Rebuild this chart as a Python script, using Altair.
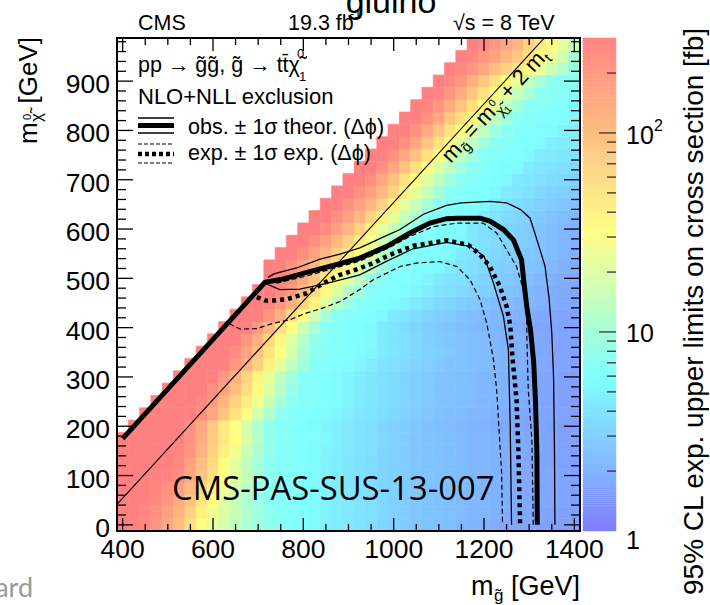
import altair as alt
import pandas as pd

FONT = "Liberation Sans"
L, T, W, H = 117, 38, 463, 493

X_DOM = [387.5, 1412.5]
Y_DOM = [-12.5, 987.5]
xs = alt.Scale(domain=X_DOM, nice=False, zero=False)
ys = alt.Scale(domain=Y_DOM, nice=False, zero=False)

# ---------------- heat map: expected limit [fb] per (m_gluino, m_LSP) cell ----------------
lsp_rows = [0, 25, 50, 75, 100, 125, 150, 175, 200, 225, 250, 275, 300, 325, 350, 375, 400,
            425, 450, 475, 500, 525, 550, 575, 600, 625, 650, 675, 700, 725, 750, 775, 800,
            825, 850, 875, 900, 925, 950, 975]
first_gluino = [400, 400, 400, 400, 400, 400, 400, 400, 425, 450, 475, 500, 525, 550, 575, 600,
                625, 650, 675, 700, 725, 725, 750, 775, 800, 825, 850, 875, 900, 925, 950, 975,
                1000, 1025, 1050, 1075, 1100, 1125, 1150, 1175]
xsec_rows = [
    [300,290,260,210,150,100,55,32,22,18,14,11,9,7.2,6.5,6.2,5.9,5.6,5.0,4.6,4.3,4.0,3.7,3.4,3.1,2.9,2.7,2.6,2.5,2.4,2.2,2.1,2.0,1.9,1.8,1.75,1.7,1.65,1.6,1.55,1.5],
    [300,300,270,230,170,120,70,40,26,19,15,11.5,9,7.2,6.5,6.2,5.9,5.6,5.0,4.6,4.3,4.0,3.7,3.4,3.1,2.9,2.7,2.6,2.5,2.4,2.3,2.2,2.1,2.0,1.9,1.8,1.75,1.7,1.65,1.6,1.55],
    [300,300,290,250,200,140,90,50,32,21,15,11,8.5,7.0,6.5,6.2,5.9,5.6,5.0,4.6,4.3,4.0,3.7,3.4,3.1,2.9,2.7,2.6,2.5,2.4,2.3,2.2,2.1,2.0,1.9,1.85,1.8,1.75,1.7,1.65,1.6],
    [300,300,300,270,220,170,110,65,40,26,18,12.5,9,7.2,6.5,6.2,5.9,5.6,5.0,4.6,4.3,4.0,3.7,3.4,3.1,2.9,2.7,2.6,2.5,2.4,2.3,2.2,2.1,2.0,1.9,1.85,1.8,1.75,1.7,1.65,1.6],
    [300,300,300,300,280,240,150,90,54,32,22,15,10,7.2,6.5,6.2,5.9,5.6,5.0,4.6,4.2,3.9,3.6,3.3,3.1,2.9,2.7,2.6,2.5,2.4,2.3,2.2,2.1,2.0,1.9,1.85,1.8,1.75,1.7,1.65,1.6],
    [300,300,300,300,300,260,170,100,58,32,21,14,9.5,7.0,6.5,6.2,5.9,5.6,5.0,4.6,4.2,3.9,3.6,3.3,3.1,2.9,2.7,2.6,2.5,2.4,2.3,2.2,2.1,2.0,1.9,1.8,1.75,1.7,1.65,1.6,1.55],
    [300,300,300,300,300,280,200,120,70,42,26,16,10.5,7.5,6.5,6.2,5.9,5.6,5.2,4.7,4.3,4.0,3.7,3.4,3.1,2.9,2.7,2.6,2.5,2.4,2.3,2.2,2.1,2.0,1.9,1.8,1.75,1.7,1.65,1.6,1.55],
    [300,300,300,300,300,300,220,140,80,46,32,19,12,7.5,6.6,6.3,6.0,5.7,5.4,4.8,4.4,4.0,3.7,3.4,3.1,2.9,2.7,2.6,2.5,2.4,2.3,2.2,2.1,2.0,1.9,1.8,1.75,1.7,1.65,1.6,1.55],
    [300,300,300,300,300,225,150,85,46,32,18,11,7.2,6.5,6.2,5.9,5.6,5.3,4.7,4.3,4.0,3.7,3.4,3.1,2.9,2.7,2.5,2.4,2.3,2.2,2.1,2.0,1.9,1.8,1.75,1.7,1.65,1.6,1.55,1.5],
    [300,300,300,300,300,225,150,90,50,32,18,11,7.2,6.5,6.2,5.9,5.6,5.3,4.7,4.3,4.0,3.7,3.4,3.1,2.9,2.7,2.5,2.4,2.3,2.2,2.1,2.0,1.9,1.8,1.75,1.7,1.65,1.6,1.55],
    [300,300,300,300,260,190,120,70,42,26,15,9.5,7.0,6.5,6.2,5.9,5.6,5.3,4.6,4.2,3.9,3.6,3.3,3.0,2.8,2.6,2.5,2.4,2.3,2.2,2.1,2.0,1.9,1.8,1.7,1.65,1.6,1.55],
    [300,300,300,300,230,160,100,58,34,20,12,8,6.5,6.2,5.9,5.6,5.3,4.6,4.2,3.9,3.6,3.3,3.0,2.8,2.6,2.5,2.4,2.3,2.2,2.1,2.0,1.9,1.8,1.7,1.65,1.6,1.55],
    [300,300,300,300,195,125,70,40,23,13.5,9,6.5,6.2,5.9,5.6,5.3,4.5,4.1,3.8,3.5,3.2,3.0,2.8,2.6,2.5,2.4,2.3,2.2,2.1,2.0,1.9,1.8,1.7,1.65,1.6,1.55],
    [300,300,300,300,200,130,72,40,23,13.5,9,6.5,6.2,5.9,5.6,5.3,4.5,4.1,3.8,3.5,3.2,3.0,2.8,2.6,2.5,2.4,2.3,2.2,2.1,2.0,1.9,1.8,1.7,1.65,1.6],
    [300,300,300,240,160,95,50,32,18,10.5,7.2,6.5,6.2,5.9,5.6,5.3,4.5,4.1,3.8,3.5,3.2,3.0,2.8,2.6,2.4,2.3,2.2,2.1,2.0,1.9,1.8,1.7,1.65,1.6],
    [300,300,300,210,130,65,36,20,12,7.8,6.6,6.3,6.0,5.7,5.4,4.4,4.0,3.7,3.4,3.1,2.9,2.7,2.5,2.4,2.3,2.2,2.1,2.0,1.9,1.8,1.7,1.65,1.6],
    [300,300,300,195,115,54,32,16.6,10,6.8,6.4,6.0,5.7,5.4,4.4,4.0,3.6,3.3,3.0,2.8,2.6,2.4,2.3,2.2,2.1,2.0,1.9,1.8,1.7,1.65,1.6,1.55],
    [300,300,300,200,125,60,32,17,10,6.8,6.4,6.0,5.7,5.4,4.4,4.0,3.6,3.3,3.0,2.8,2.6,2.4,2.3,2.2,2.1,2.0,1.9,1.8,1.7,1.65,1.6],
    [300,300,280,205,130,70,40,22,13,8.5,6.6,6.2,5.9,5.6,5.3,4.4,4.0,3.6,3.3,3.0,2.8,2.6,2.4,2.3,2.2,2.1,2.0,1.9,1.8,1.7],
    [300,300,250,180,110,60,36,21,13,8.8,6.5,6.2,5.9,5.6,5.3,4.5,4.1,3.8,3.5,3.2,3.0,2.8,2.6,2.4,2.2,2.0,1.9,1.8,1.75],
    [300,300,225,150,85,46,32,20,13.5,9,6.5,6.2,5.9,5.6,5.3,4.5,4.1,3.8,3.5,3.2,3.0,2.8,2.6,2.4,2.2,2.0,1.9,1.8],
    [300,290,220,160,110,70,46,32,20,13.5,9,6.6,6.3,6.0,5.7,5.4,4.5,4.1,3.8,3.5,3.2,3.0,2.8,2.6,2.4,2.2,2.0,1.9],
    [300,300,225,165,115,72,44,32,20,13.5,9,6.6,6.3,6.0,5.7,5.4,4.4,4.0,3.7,3.4,3.1,2.9,2.7,2.5,2.3,2.1,1.95],
    [300,300,225,168,115,71,42,27,17,11,7.5,6.5,6.2,5.9,5.6,5.3,4.3,3.9,3.6,3.3,3.0,2.8,2.6,2.4,2.2,2.0],
    [300,300,225,170,115,71,40,22.6,15,10,6.8,6.4,6.0,5.7,5.4,4.3,3.9,3.6,3.2,3.0,2.8,2.6,2.4,2.2,2.0],
    [300,300,225,170,115,71,40,22.6,15,10,6.8,6.4,6.0,5.7,5.4,4.4,4.0,3.6,3.3,3.0,2.8,2.6,2.4,2.2],
    [300,300,225,170,115,71,40,22.6,15,10,6.8,6.4,6.0,5.7,5.4,4.5,4.1,3.7,3.4,3.1,2.9,2.7,2.5],
    [300,300,225,170,115,71,40,22.6,15,10,6.8,6.4,6.0,5.7,5.4,4.6,4.2,3.8,3.5,3.2,3.0,2.8],
    [300,300,225,150,95,54,32,20,13.5,9,6.8,6.4,6.0,5.7,5.4,4.3,4.1,3.9,3.6,3.4,3.2],
    [300,300,225,150,95,54,32,20,13.5,9,6.8,6.4,6.0,5.7,5.4,4.4,4.2,4.0,3.8,3.6],
    [300,300,225,150,92,54,32,20,13.5,9,6.8,6.4,6.0,5.7,5.5,4.6,4.4,4.2,4.0],
    [300,300,225,150,90,54,32,20,13.5,9,6.8,6.4,6.0,5.8,5.6,4.8,4.6,4.4],
    [300,300,225,150,90,54,32,20,13.5,9,6.8,6.4,6.0,5.8,5.6,5.0,4.7],
    [300,290,220,150,90,54,32,21,14,9.5,6.9,6.5,6.2,6.0,5.8,5.4],
    [300,280,210,140,88,54,32,21.5,14.5,9.8,7.0,6.7,6.4,6.2,6.0],
    [300,270,200,132,86,54,32,22,15,10,7.1,6.8,6.5,6.3],
    [300,260,195,127,85,54,32,22.6,15,10,7.2,6.8,6.5],
    [300,260,198,145,100,70,46,32,24,16,11,8],
    [300,260,200,165,115,85,54,32,25,17,10],
    [300,260,195,150,115,71,46,32,22.6,15],
]

# ---------------- exclusion contours ----------------
obs_x = [400, 715, 740, 756, 808, 866, 925, 985, 1036, 1080, 1117, 1140, 1191, 1213, 1243, 1265, 1283, 1288, 1295, 1303, 1310, 1314, 1317, 1318]
obs_y = [175, 492, 496, 499, 512, 526, 541, 565, 592, 612, 621, 622, 622, 616, 599, 578, 538, 495, 440, 395, 330, 250, 150, 0]
obs_up_x = [722, 735, 785, 837, 881, 925, 985, 1014, 1066, 1117, 1150, 1213, 1250, 1280, 1302, 1320, 1335, 1344, 1350, 1354, 1356, 1357]
obs_up_y = [502, 509, 521, 539, 549, 562, 587, 599, 630, 648, 653, 656, 653, 640, 622, 570, 525, 460, 390, 300, 150, 0]
obs_dn_x = [715, 748, 792, 852, 925, 985, 1043, 1117, 1169, 1200, 1221, 1243, 1254, 1258, 1261]
obs_dn_y = [490, 477, 478, 490, 507, 535, 560, 573, 565, 545, 490, 423, 355, 200, 0]
exp_x = [697, 715, 734, 765, 808, 844, 881, 918, 955, 992, 1044, 1117, 1165, 1191, 1213, 1235, 1250, 1258, 1263, 1272, 1276, 1280]
exp_y = [462, 455, 455, 458, 470, 490, 507, 518, 531, 548, 566, 577, 568, 548, 524, 484, 443, 405, 340, 254, 152, 0]
exp_up_x = [740, 808, 866, 925, 985, 1036, 1088, 1140, 1198, 1228, 1250, 1272, 1287, 1294, 1295, 1298, 1306, 1309]
exp_up_y = [490, 505, 520, 535, 560, 585, 605, 612, 612, 592, 558, 524, 477, 430, 375, 274, 172, 0]
exp_dn_x = [636, 660, 697, 734, 770, 808, 844, 881, 918, 955, 1014, 1051, 1103, 1140, 1169, 1191, 1206, 1213, 1221, 1228, 1239, 1241]
exp_dn_y = [408, 397, 398, 409, 416, 430, 440, 453, 473, 497, 524, 531, 534, 524, 497, 457, 409, 375, 335, 274, 105, 0]

# kinematic line m_gluino = m_LSP + 2 m_top
diag_x = [387.5, 1333.5]
diag_y = [41.5, 987.5]

x_major = [400, 600, 800, 1000, 1200, 1400]
x_minor = [450, 500, 550, 650, 700, 750, 850, 900, 950, 1050, 1100, 1150, 1250, 1300, 1350]
y_major = [0, 100, 200, 300, 400, 500, 600, 700, 800, 900]
y_minor = [20, 40, 60, 80, 120, 140, 160, 180, 220, 240, 260, 280, 320, 340, 360, 380, 420, 440,
           460, 480, 520, 540, 560, 580, 620, 640, 660, 680, 720, 740, 760, 780, 820, 840, 860,
           880, 920, 940, 960, 980]
cb_major = [10, 100]
cb_minor = [2, 3, 4, 5, 6, 7, 8, 9, 20, 30, 40, 50, 60, 70, 80, 90, 200]

# ---------------- build ----------------
recs = []
for lsp, g0, vals in zip(lsp_rows, first_gluino, xsec_rows):
    for j, v in enumerate(vals):
        g = g0 + 25 * j
        recs.append({"x0": g - 12.5, "x1": g + 12.5, "y0": lsp - 12.5, "y1": lsp + 12.5, "v": v})
heat_df = pd.DataFrame(recs)

cscale = alt.Scale(type="log", domain=[1, 5.9, 31.6, 300],
                   range=["#8080ff", "#80ffff", "#ffff80", "#ff8080"], interpolate="rgb")

heat = alt.Chart(heat_df).mark_rect(strokeWidth=0.6).encode(
    x=alt.X("x0:Q", scale=xs, axis=None),
    x2="x1",
    y=alt.Y("y0:Q", scale=ys, axis=None),
    y2="y1",
    color=alt.Color("v:Q", scale=cscale, legend=None),
    stroke=alt.Stroke("v:Q", scale=cscale, legend=None),
)


def curve(xv, yv, width, dash=None):
    df = pd.DataFrame({"x": xv, "y": yv, "i": list(range(len(xv)))})
    kw = dict(color="black", strokeWidth=width, clip=True)
    if dash:
        kw["strokeDash"] = dash
    return alt.Chart(df).mark_line(**kw).encode(
        x=alt.X("x:Q", scale=xs, axis=None), y=alt.Y("y:Q", scale=ys, axis=None),
        order="i:Q")


def yticks(values, x0, x1):
    return alt.Chart(pd.DataFrame({"v": values})).mark_rule(color="black", strokeWidth=1.3).encode(
        y=alt.Y("v:Q", scale=ys, axis=None), x=alt.value(x0), x2=alt.value(x1))


def xticks(values, y0, y1):
    return alt.Chart(pd.DataFrame({"v": values})).mark_rule(color="black", strokeWidth=1.3).encode(
        x=alt.X("v:Q", scale=xs, axis=None), y=alt.value(y0), y2=alt.value(y1))


xlabels = alt.Chart(pd.DataFrame({"v": x_major})).mark_text(
    font=FONT, fontSize=26.5, align="center", baseline="alphabetic", color="black").encode(
    x=alt.X("v:Q", scale=xs, axis=None), y=alt.value(558 - T), text=alt.Text("v:Q", format="d"))

ylabels = alt.Chart(pd.DataFrame({"v": y_major})).mark_text(
    font=FONT, fontSize=26.5, align="right", baseline="alphabetic", dy=12, color="black").encode(
    y=alt.Y("v:Q", scale=ys, axis=None), x=alt.value(110 - L), text=alt.Text("v:Q", format="d"))

ONE = pd.DataFrame({"a": [0]})


def label(text, x, y, size, angle=0, dx=0, dy=0, align="left", baseline="alphabetic",
          color="black", font=FONT):
    return alt.Chart(ONE).mark_text(text=text, fontSize=size, font=font, angle=angle, dx=dx, dy=dy,
                                    align=align, baseline=baseline, color=color).encode(
        x=alt.value(x - L), y=alt.value(y - T))


def seg(x0, x1, y, width, dash=None):
    kw = dict(color="black", strokeWidth=width)
    if dash:
        kw["strokeDash"] = dash
    return alt.Chart(ONE).mark_rule(**kw).encode(
        x=alt.value(x0 - L), x2=alt.value(x1 - L), y=alt.value(y - T))


DIAG_ANCHOR = pd.DataFrame({"x": [1100], "y": [754]})


def dlabel(text, size, dx, dy):
    return alt.Chart(DIAG_ANCHOR).mark_text(text=text, fontSize=size, font=FONT, angle=312.5,
                                            dx=dx, dy=dy, align="left", baseline="alphabetic",
                                            color="black").encode(
        x=alt.X("x:Q", scale=xs, axis=None), y=alt.Y("y:Q", scale=ys, axis=None))


frame = alt.Chart(ONE).mark_rect(fillOpacity=0, stroke="black", strokeWidth=2).encode(
    x=alt.value(0), x2=alt.value(W), y=alt.value(0), y2=alt.value(H))

layers = [
    heat,
    curve(diag_x, diag_y, 1.1),
    curve(exp_dn_x, exp_dn_y, 1.2, [5, 3]),
    curve(exp_up_x, exp_up_y, 1.2, [5, 3]),
    curve(obs_dn_x, obs_dn_y, 1.3),
    curve(obs_up_x, obs_up_y, 1.3),
    curve(exp_x, exp_y, 4.5, [4, 4]),
    curve(obs_x, obs_y, 5),
    yticks(y_major, 0, 16), yticks(y_minor, 0, 9),
    yticks(y_major, W - 16, W), yticks(y_minor, W - 9, W),
    xticks(x_major, H - 13, H), xticks(x_minor, H - 7, H),
    xticks(x_major, 0, 13), xticks(x_minor, 0, 7),
    frame,
    xlabels, ylabels,
    # header
    label("CMS", 138, 30, 21.5),
    label("19.3 fb", 288, 30, 21.5),
    label("-1", 350, 18, 13),
    label("\u221as = 8 TeV", 453, 30, 21.5),
    label("gluino", 391, 13, 34, align="center"),
    # legend
    label("pp \u2192 g\u0303g\u0303, g\u0303 \u2192 tt\u0304\u03c7\u0303", 138, 72, 21.5),
    label("0", 297, 58, 13),
    label("1", 299, 81, 13),
    label("NLO+NLL exclusion", 138, 104, 22),
    seg(138, 174, 118, 1.5), seg(138, 174, 125.5, 5), seg(138, 174, 133, 1.5),
    label("obs. \u00b1 1\u03c3 theor. (\u0394\u03d5)", 188, 134, 21.5),
    seg(138, 174, 144, 1.2, [4, 2]), seg(138, 174, 154, 4.5, [4, 3]), seg(138, 174, 163, 1.2, [4, 2]),
    label("exp. \u00b1 1\u03c3 exp. (\u0394\u03d5)", 188, 160, 21.5),
    # diagonal label
    dlabel("m", 22, 0, 16),
    dlabel("g\u0303", 14.5, 19, 21),
    dlabel("=", 22, 32, 16),
    dlabel("m", 22, 50, 16),
    dlabel("\u03c7\u0303", 14.5, 69, 22),
    dlabel("0", 10.5, 70, 9),
    dlabel("1", 10.5, 76, 25),
    dlabel("+", 22, 86, 16),
    dlabel("2", 22, 105, 16),
    dlabel("m", 22, 123, 16),
    dlabel("t", 14.5, 142, 21),
    # axis titles
    label("m", 471, 595, 27),
    label("g\u0303", 494, 601, 17),
    label("[GeV]", 580, 595, 27, align="right"),
    label("m", 37, 144, 26, angle=270),
    label("\u03c7\u0303", 42, 122, 17, angle=270),
    label("0", 31, 120, 11, angle=270),
    label("[GeV]", 37, 37, 26, angle=270, align="right"),
    # overlays
    label("CMS-PAS-SUS-13-007", 172, 500, 32.8, font="Open Sans"),
    label("ard", 33, 597, 27, align="right", color="#999999", font="Lato"),
    label("95% CL exp. upper limits on cross section [fb]", 703, 28, 28, angle=270,
          align="right"),
]
main = alt.layer(*layers)

# colour bar (z axis) on its own log scale
cb_scale = alt.Scale(type="log", domain=[1, 300], nice=False)
CBX0, CBX = 583 - L, 616 - L

cb_strip = alt.Chart(alt.sequence(0, 2.478, 0.01, as_="e")).transform_calculate(
    v="pow(10, datum.e)", v2="min(pow(10, datum.e + 0.01), 300)"
).mark_rect(strokeWidth=0.5).encode(
    y=alt.Y("v:Q", scale=cb_scale, axis=None), y2="v2:Q",
    x=alt.value(CBX0), x2=alt.value(CBX),
    color=alt.Color("v:Q", scale=cscale, legend=None),
    stroke=alt.Stroke("v:Q", scale=cscale, legend=None),
)


def cbticks(values, length):
    return alt.Chart(pd.DataFrame({"v": values})).mark_rule(color="#333333", strokeWidth=1.3).encode(
        y=alt.Y("v:Q", scale=cb_scale, axis=None), x=alt.value(CBX - length), x2=alt.value(CBX))


def cblabel(text, v, size, dx=0, dy=0):
    return alt.Chart(pd.DataFrame({"v": [v]})).mark_text(
        text=text, fontSize=size, font=FONT, dx=dx, dy=dy, align="left", baseline="middle",
        color="black").encode(y=alt.Y("v:Q", scale=cb_scale, axis=None), x=alt.value(626 - L))


cbar = alt.layer(
    cb_strip,
    cbticks(cb_minor, 9), cbticks(cb_major, 17),
    cblabel("1", 1, 25, dy=10),
    cblabel("10", 10, 25, dy=2),
    cblabel("10", 100, 25, dy=3),
    cblabel("2", 100, 16, dx=28, dy=-7),
)

chart = alt.layer(main, cbar).resolve_scale(y="independent").properties(
    width=W, height=H,
    autosize=alt.AutoSizeParams(type="none"),
    padding={"left": L, "top": T, "right": 710 - L - W, "bottom": 605 - T - H},
).configure_view(stroke=None)

chart.save("out.html", embed_options={"renderer": "svg", "actions": False})
